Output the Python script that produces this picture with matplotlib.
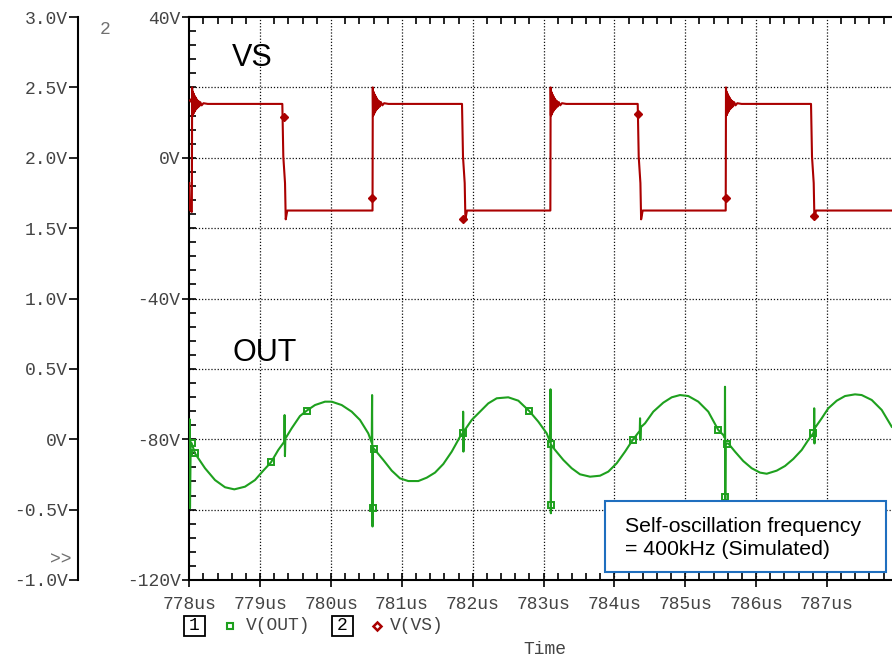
import numpy as np
import matplotlib.pyplot as plt
from matplotlib.lines import Line2D
from matplotlib.patches import Rectangle

# ---- data (time in us) ----
# V(OUT), plotted against the outer axis 1 (volts)
out_t = [778.000, 778.004, 778.010, 778.020, 778.034, 778.080, 778.222, 778.363,
         778.504, 778.635, 778.786, 778.927, 779.044, 779.153, 779.256, 779.341,
         779.345, 779.350, 779.356, 779.445, 779.562, 779.657, 779.774, 779.915,
         780.010, 780.151, 780.292, 780.409, 780.526, 780.575, 780.580, 780.586,
         780.592, 780.621, 780.738, 780.857, 780.974, 781.091, 781.232, 781.351,
         781.468, 781.585, 781.704, 781.821, 781.862, 781.865, 781.869, 781.874,
         781.986, 782.103, 782.220, 782.339, 782.502, 782.644, 782.799, 782.926,
         783.044, 783.094, 783.098, 783.103, 783.108, 783.162, 783.279, 783.397,
         783.514, 783.656, 783.797, 783.914, 784.032, 784.150, 784.258, 784.358,
         784.362, 784.366, 784.372, 784.432, 784.549, 784.690, 784.809, 784.926,
         785.043, 785.184, 785.325, 785.466, 785.537, 785.558, 785.561, 785.565,
         785.570, 785.608, 785.702, 785.819, 785.938, 786.055, 786.150, 786.291,
         786.408, 786.525, 786.644, 786.737, 786.807, 786.817, 786.820, 786.824,
         786.830, 786.926, 787.019, 787.138, 787.255, 787.396, 787.490, 787.632,
         787.773, 787.914]
out_v = [-0.05, 0.142, -0.49, -0.02, -0.03, -0.10, -0.206, -0.290,
         -0.341, -0.356, -0.337, -0.290, -0.223, -0.164, -0.076, -0.017,
         0.172, -0.120, 0.005, 0.078, 0.165, 0.203, 0.243, 0.267,
         0.267, 0.243, 0.196, 0.137, 0.042, -0.025, 0.314, -0.620,
         -0.060, -0.076, -0.147, -0.223, -0.278, -0.297, -0.297, -0.273,
         -0.237, -0.176, -0.088, 0.018, 0.045, 0.196, -0.088, 0.055,
         0.137, 0.196, 0.255, 0.291, 0.298, 0.274, 0.200, 0.125,
         0.042, -0.020, 0.355, -0.526, -0.040, -0.076, -0.147, -0.206,
         -0.249, -0.266, -0.259, -0.230, -0.171, -0.088, -0.005, 0.060,
         0.149, -0.005, 0.085, 0.113, 0.196, 0.260, 0.298, 0.314,
         0.307, 0.267, 0.196, 0.066, 0.030, 0.010, 0.373, -0.430,
         -0.030, -0.030, -0.088, -0.155, -0.206, -0.237, -0.245, -0.223,
         -0.190, -0.140, -0.076, -0.005, 0.042, 0.060, 0.220, -0.030,
         0.080, 0.149, 0.220, 0.274, 0.307, 0.319, 0.314, 0.279,
         0.208, 0.089]
out_mark_t = [778.034, 778.080, 779.153, 779.657, 780.597, 780.607, 781.867, 782.799,
              783.101, 783.101, 784.258, 785.466, 785.561, 785.585, 786.807]
out_mark_v = [-0.03, -0.10, -0.164, 0.203, -0.49, -0.069, 0.047, 0.200,
              -0.034, -0.467, -0.005, 0.066, -0.408, -0.034, 0.042]

# V(VS), plotted against the inner axis 2 (volts)
vs_start_t = [778.000, 778.010, 778.035]
vs_start_v = [-7.2, -14.9, -15.4]
vs_rise = [778.040, 780.590, 783.100, 785.575]
vs_fall = [779.313, 781.849, 784.329, 786.775]
ring_dt = [0.0, 0.004, 0.008, 0.012, 0.016, 0.020, 0.025, 0.030, 0.035, 0.040,
           0.046, 0.052, 0.058, 0.065, 0.072, 0.080, 0.090, 0.100, 0.115, 0.135,
           0.160, 0.220]
ring_v = [20.0, 12.0, 18.8, 12.2, 18.4, 12.6, 18.0, 13.0, 17.6, 13.3,
          17.2, 13.7, 16.8, 14.0, 16.4, 14.3, 16.1, 14.6, 15.8, 14.9,
          15.5, 15.3]
fall_dt = [0.0, 0.014, 0.038, 0.048, 0.070]
fall_v = [15.3, 0.3, -7.2, -17.5, -15.0]
vs_low = -15.0
vs_mark_t = [778.048, 779.337, 780.583, 781.867, 784.336, 785.571, 786.821]
vs_mark_v = [16.4, 11.7, -11.5, -17.5, 12.35, -11.5, -16.5]

t_min, t_max = 778.0, 787.918
x_ticks = list(range(778, 788))
x_labels = [f"{t}us" for t in x_ticks]
y2_ticks = [-120, -80, -40, 0, 40]
y2_labels = ["-120V", "-80V", "-40V", "0V", "40V"]
y1_ticks = [-1.0, -0.5, 0.0, 0.5, 1.0, 1.5, 2.0, 2.5, 3.0]
y1_labels = ["-1.0V", "-0.5V", "0V", "0.5V", "1.0V", "1.5V", "2.0V", "2.5V", "3.0V"]

# assemble VS trace from the read-off pieces
vs_t, vs_v = list(vs_start_t), list(vs_start_v)
for r, f in zip(vs_rise, vs_fall):
    if vs_t[-1] < r - 0.004:
        vs_t.append(r - 0.004)
        vs_v.append(vs_low)
    vs_t += [r + d for d in ring_dt]
    vs_v += ring_v
    vs_t += [f + d for d in fall_dt]
    vs_v += fall_v
vs_t.append(t_max)
vs_v.append(vs_low)

green = '#1ea01e'
red = '#aa0000'
mono = 'Liberation Mono'
lab_col = '#444444'

W, H = 892, 660
fig = plt.figure(figsize=(W / 100, H / 100), dpi=100)
x0, x1, y0, y1 = 189.3, 892, 17, 580
ax = fig.add_axes([x0 / W, 1 - y1 / H, (x1 - x0) / W, (y1 - y0) / H])
ax.set_xlim(t_min, t_max)
ax.set_ylim(-120, 40)

# grid
ax.vlines(x_ticks[1:], -120, 40, colors='#111111', linestyles=(0, (1, 1.5)), lw=0.9, zorder=1)
ax.hlines(np.arange(-100, 40, 20), t_min, t_max, colors='#111111',
          linestyles=(0, (1, 1.5)), lw=0.9, zorder=1)

ax.plot(vs_t, vs_v, color=red, lw=1.5, zorder=3)
ax.plot(vs_mark_t, vs_mark_v, ls='none', marker='D', ms=4.5, mfc=red, mec=red, zorder=4)

ax.set_xticks(x_ticks)
ax.set_xticklabels(x_labels, family=mono, fontsize=13, color=lab_col)
ax.set_xticks(np.arange(778, 788, 0.2), minor=True)
ax.set_yticks(y2_ticks)
ax.set_yticklabels(y2_labels, family=mono, fontsize=13, color=lab_col)
ax.set_yticks(np.arange(-120, 41, 4), minor=True)
ax.tick_params(axis='x', which='major', direction='inout', length=9.6, width=1.2, pad=6.5)
ax.tick_params(axis='x', which='minor', direction='in', length=4.8, width=1.2, top=True)
ax.tick_params(axis='y', which='major', direction='inout', length=9.6, width=1.2, pad=1.5)
ax.tick_params(axis='y', which='minor', direction='in', length=4.8, width=1.2)
ax.spines['right'].set_visible(False)
for s in ['left', 'top', 'bottom']:
    ax.spines[s].set_linewidth(1.5)

# outer axis 1 for V(OUT)
ax1 = ax.twinx()
ax1.set_ylim(-1.0, 3.0)
ax1.yaxis.set_ticks_position('left')
ax1.spines['left'].set_position(('axes', (78 - x0) / (x1 - x0)))
ax1.spines['left'].set_linewidth(1.5)
for s in ['right', 'top', 'bottom']:
    ax1.spines[s].set_visible(False)
ax1.set_yticks(y1_ticks)
ax1.set_yticklabels(y1_labels, family=mono, fontsize=13, color=lab_col)
ax1.tick_params(axis='y', direction='out', length=6.5, width=1.2, pad=1)
ax1.plot(out_t, out_v, color=green, lw=1.5, zorder=3)
ax1.plot(out_mark_t, out_mark_v, ls='none', marker='s', ms=5, mfc='none', mec=green,
         mew=1.4, zorder=4)

def fx(px):
    return px / W

def fy(py):
    return 1 - py / H

# trace names
fig.text(fx(231.5), fy(66.5), "VS", family='Liberation Sans', fontsize=22, va='baseline')
fig.text(fx(233), fy(361), "OUT", family='Liberation Sans', fontsize=22, va='baseline')

# annotation box
fig.add_artist(Rectangle((fx(605), fy(572)), (886 - 605) / W, (572 - 501) / H,
                         transform=fig.transFigure, fc='white', ec='#1f6fbf', lw=1.5, zorder=5))
fig.text(fx(625), fy(531.5), "Self-oscillation frequency", family='Liberation Sans',
         fontsize=15.3, va='baseline', zorder=6)
fig.text(fx(625), fy(555), "= 400kHz (Simulated)", family='Liberation Sans',
         fontsize=15.3, va='baseline', zorder=6)

# axis markers "2" and ">>"
fig.text(fx(105), fy(30), "2", family=mono, fontsize=13, color='#707070', ha='center', va='center')
fig.text(fx(61), fy(560), ">>", family=mono, fontsize=13, color='#707070', ha='center', va='center')

# legend row
for bx, num in [(183.5, "1"), (331.5, "2")]:
    fig.add_artist(Rectangle((fx(bx), fy(636)), 21 / W, 20 / H, transform=fig.transFigure,
                             fc='none', ec='black', lw=1.3))
    fig.text(fx(bx + 10.5), fy(626), num, family=mono, fontsize=13, color='black',
             ha='center', va='center')
fig.add_artist(Line2D([fx(229.5)], [fy(626)], marker='s', ms=4, mfc='none', mec=green,
                      mew=1.5, transform=fig.transFigure))
fig.text(fx(246), fy(626), "V(OUT)", family=mono, fontsize=13, color=lab_col, va='center')
fig.add_artist(Line2D([fx(377)], [fy(626)], marker='D', ms=4, mfc='white', mec=red,
                      mew=1.8, transform=fig.transFigure))
fig.text(fx(390), fy(626), "V(VS)", family=mono, fontsize=13, color=lab_col, va='center')
fig.text(fx(523), fy(649), "Time", family=mono, fontsize=13, color=lab_col, va='center')

fig.savefig("out.png", dpi=100)
